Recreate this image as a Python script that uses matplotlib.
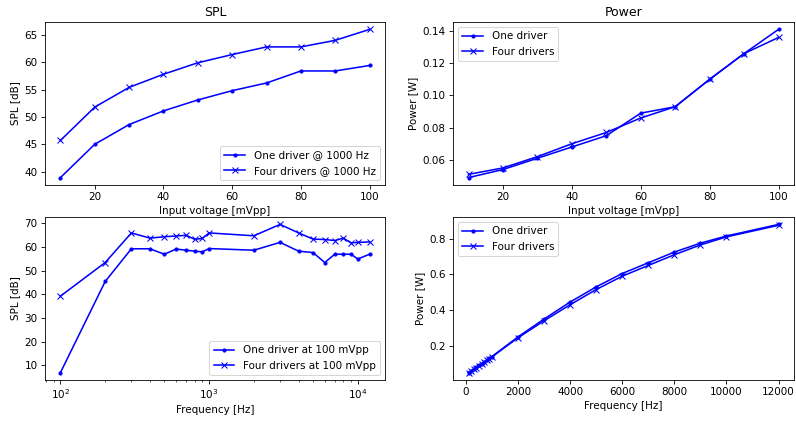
import matplotlib
matplotlib.use("Agg")
import matplotlib.pyplot as plt

# Input voltage sweep at 1000 Hz
voltage = [10, 20, 30, 40, 50, 60, 70, 80, 90, 100]
spl_one_v = [38.9, 45.0, 48.6, 51.1, 53.1, 54.8, 56.2, 58.4, 58.4, 59.4]
spl_four_v = [45.7, 51.8, 55.4, 57.8, 59.9, 61.4, 62.8, 62.8, 64.0, 66.0]
pow_one_v = [0.049, 0.054, 0.061, 0.068, 0.075, 0.089, 0.093, 0.110, 0.126, 0.141]
pow_four_v = [0.051, 0.055, 0.062, 0.070, 0.077, 0.086, 0.093, 0.110, 0.126, 0.136]

# Frequency sweep at 100 mVpp
freq = [100, 200, 300, 400, 500, 600, 700, 800, 900, 1000,
        2000, 3000, 4000, 5000, 6000, 7000, 8000, 9000, 10000, 12000]
spl_one_f = [7.0, 45.5, 59.3, 59.3, 57.0, 59.2, 58.7, 58.3, 58.0, 59.4,
             58.7, 62.0, 58.3, 57.7, 53.5, 57.0, 57.0, 57.0, 55.0, 57.0]
spl_four_f = [39.3, 53.5, 66.0, 63.8, 64.4, 64.7, 65.0, 63.3, 63.7, 66.0,
              64.8, 69.6, 66.0, 63.4, 63.2, 62.8, 63.8, 61.8, 62.0, 62.2]
pow_one_f = [0.050, 0.060, 0.070, 0.080, 0.090, 0.100, 0.110, 0.120, 0.130, 0.140,
             0.250, 0.350, 0.445, 0.530, 0.605, 0.665, 0.725, 0.775, 0.815, 0.880]
pow_four_f = [0.050, 0.059, 0.069, 0.078, 0.088, 0.098, 0.108, 0.118, 0.128, 0.138,
              0.245, 0.340, 0.430, 0.515, 0.590, 0.650, 0.710, 0.765, 0.810, 0.875]

DPI = 75
W, H = 796, 423
fig = plt.figure(figsize=(W / DPI, H / DPI), dpi=DPI)


def add_axes(x0, y0, x1, y1):
    return fig.add_axes([x0 / W, 1 - y1 / H, (x1 - x0) / W, (y1 - y0) / H])


ax1 = add_axes(45, 22, 385, 185)
ax2 = add_axes(453, 22, 794, 185)
ax3 = add_axes(45, 217, 385, 380)
ax4 = add_axes(453, 217, 794, 380)

ax1.plot(voltage, spl_one_v, "b.-", label="One driver @ 1000 Hz")
ax1.plot(voltage, spl_four_v, "bx-", label="Four drivers @ 1000 Hz")
ax1.set_title("SPL")
ax1.set_xlabel("Input voltage [mVpp]")
ax1.set_ylabel("SPL [dB]")
ax1.legend(loc="lower right")

ax2.plot(voltage, pow_one_v, "b.-", label="One driver")
ax2.plot(voltage, pow_four_v, "bx-", label="Four drivers")
ax2.set_title("Power")
ax2.set_xlabel("Input voltage [mVpp]")
ax2.set_ylabel("Power [W]")
ax2.legend(loc="upper left")

ax3.semilogx(freq, spl_one_f, "b.-", label="One driver at 100 mVpp")
ax3.semilogx(freq, spl_four_f, "bx-", label="Four drivers at 100 mVpp")
ax3.set_xlabel("Frequency [Hz]")
ax3.set_ylabel("SPL [dB]")
ax3.legend(loc="lower right")

ax4.plot(freq, pow_one_f, "b.-", label="One driver")
ax4.plot(freq, pow_four_f, "bx-", label="Four drivers")
ax4.set_xlabel("Frequency [Hz]")
ax4.set_ylabel("Power [W]")
ax4.legend(loc="upper left")

fig.savefig("out.png", dpi=DPI)
